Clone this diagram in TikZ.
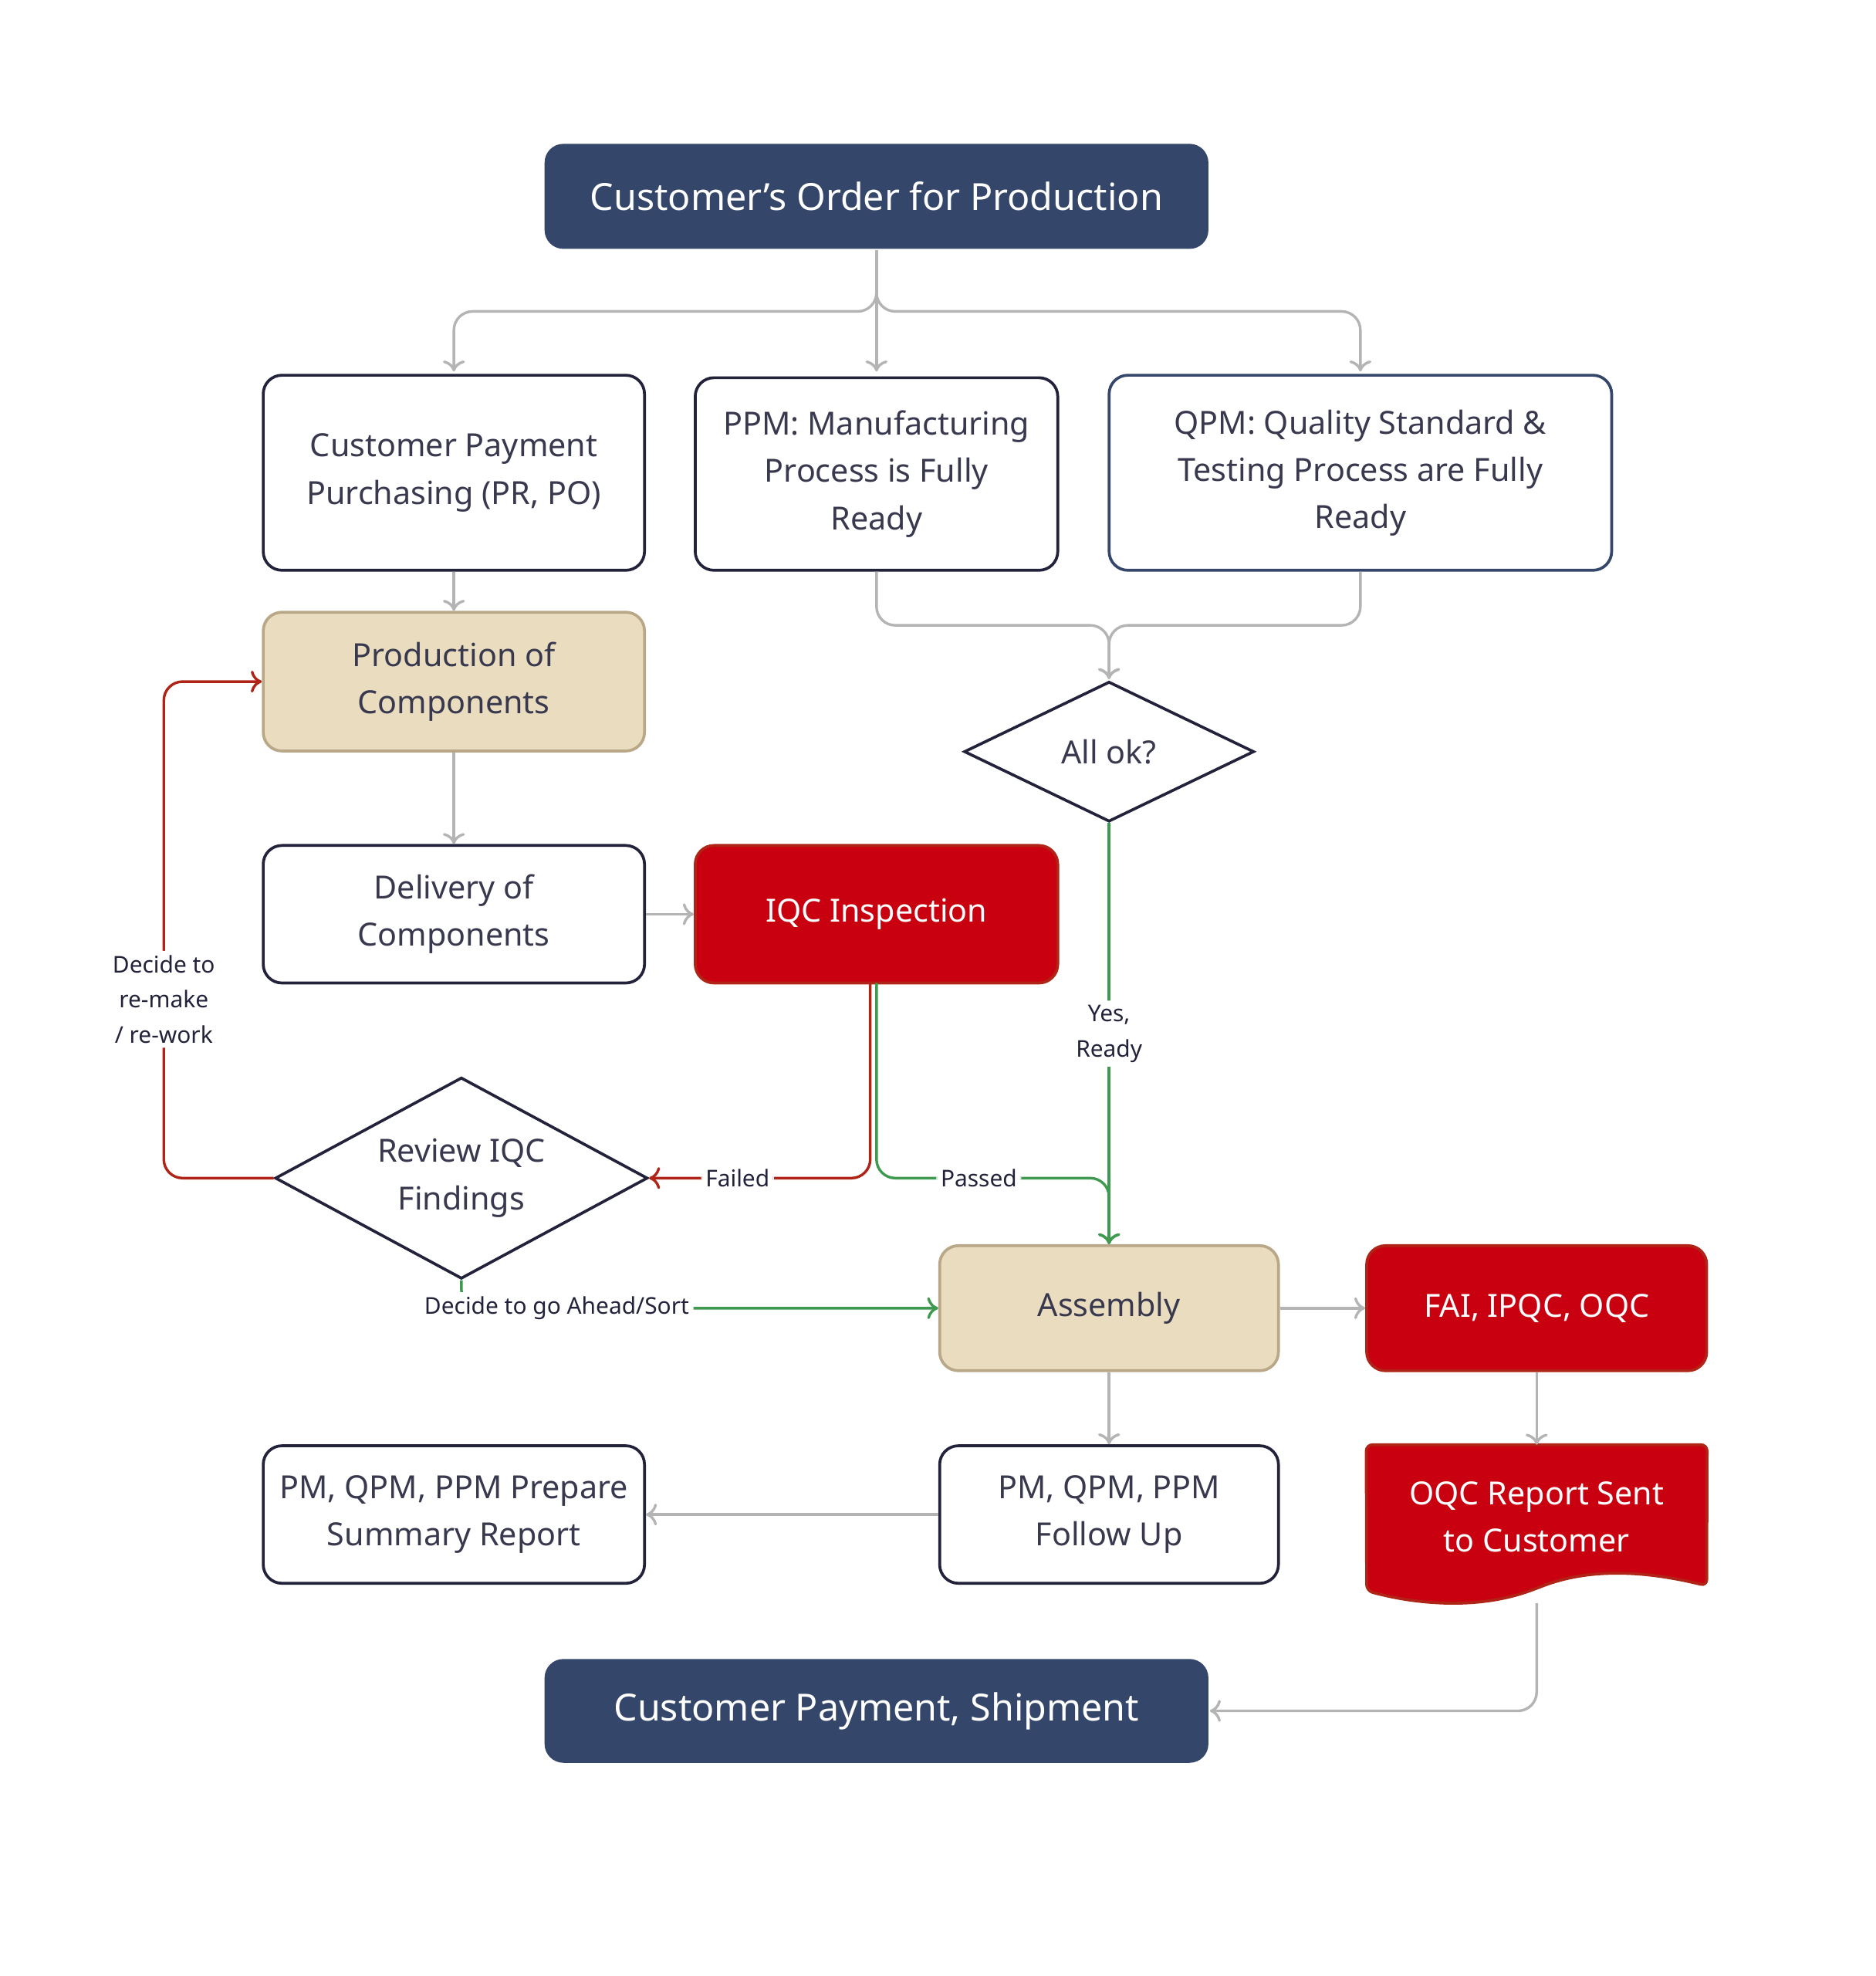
\documentclass[tikz,border=0pt]{standalone}
\usepackage{fontspec}
\setmainfont{Noto Sans}
\usetikzlibrary{shapes.geometric,arrows.meta}
\definecolor{navy}{HTML}{344669}
\definecolor{ink}{HTML}{22223A}
\definecolor{beige}{HTML}{EADCBF}
\definecolor{beigeline}{HTML}{B8A888}
\definecolor{redbox}{HTML}{C8000F}
\definecolor{redline}{HTML}{B02418}
\definecolor{greenline}{HTML}{3E9A4E}
\definecolor{greyline}{HTML}{B4B4B4}
\tikzset{
  box/.style={draw=ink,line width=1.3pt,rounded corners=0.3cm,fill=white,
    align=center,font=\fontsize{14.5}{21.5}\selectfont,text=ink!90},
  head/.style={box,draw=none,fill=navy,text=white,font=\fontsize{17}{20}\selectfont\bfseries},
  warm/.style={box,draw=beigeline,fill=beige},
  alarm/.style={box,draw=redline,fill=redbox,text=white},
  choice/.style={diamond,draw=ink,line width=1.3pt,fill=white,aspect=2,inner sep=0pt,
    align=center,font=\fontsize{14.5}{21.5}\selectfont,text=ink!90},
  flow/.style={draw=greyline,line width=1.2pt,rounded corners=0.3cm,-{To[length=5pt,width=10pt]}},
  ok/.style={flow,draw=greenline},
  bad/.style={flow,draw=redline},
  tag/.style={fill=white,font=\fontsize{10.5}{16}\selectfont\bfseries,text=ink,align=center,inner sep=2pt}
}
\begin{document}
\begin{tikzpicture}[x=0.02cm,y=-0.02cm]
\useasboundingbox (0,0) rectangle (1500,1580);
\node[head,minimum width=10.62cm,minimum height=1.68cm] (order) at (701,157) {Customer’s Order for Production};
\node[box,minimum width=6.1cm,minimum height=3.12cm] (pay) at (363,378) {Customer Payment\\Purchasing (PR, PO)};
\node[box,minimum width=5.8cm,minimum height=3.08cm] (ppm) at (701,379) {\textbf{PPM:} Manufacturing\\Process is Fully\\Ready};
\node[box,draw=navy,minimum width=8.04cm,minimum height=3.12cm] (qpm) at (1088,378) {\textbf{QPM:} Quality Standard \&\\Testing Process are Fully\\Ready};
\node[warm,minimum width=6.1cm,minimum height=2.22cm] (prod) at (363,545) {Production of\\Components};
\node[choice,minimum width=4.64cm,minimum height=2.24cm] (allok) at (887,601) {All ok?};
\node[box,minimum width=6.1cm,minimum height=2.2cm] (deliv) at (363,731) {Delivery of\\Components};
\node[alarm,minimum width=5.8cm,minimum height=2.2cm] (iqc) at (701,731) {IQC Inspection};
\node[choice,minimum width=5.96cm,minimum height=3.22cm] (review) at (369,942) {Review IQC\\Findings};
\node[warm,minimum width=5.42cm,minimum height=2cm,font=\fontsize{14.5}{21.5}\selectfont\bfseries] (asm) at (887,1046) {Assembly};
\node[alarm,minimum width=5.44cm,minimum height=2cm] (fai) at (1229,1046) {FAI, IPQC, OQC};
\node[box,minimum width=5.42cm,minimum height=2.2cm] (follow) at (887,1211) {PM, QPM, PPM\\Follow Up};
\node[box,minimum width=6.1cm,minimum height=2.2cm] (summ) at (363,1211) {PM, QPM, PPM Prepare\\Summary Report};
\node[minimum width=5.44cm,minimum height=2.3cm] (oqc) at (1229,1213) {};
\fill[redbox,draw=redline,line width=1.3pt,rounded corners=0.1cm]
  (oqc.north west) -- (oqc.north east) -- (1365,1268)
  .. controls (1300,1252) and (1260,1258) .. (1229,1270)
  .. controls (1180,1288) and (1130,1282) .. (1093,1272) -- cycle;
\node[align=center,text=white,font=\fontsize{14.5}{21.5}\selectfont] at (1229,1213) {OQC Report Sent\\to Customer};
\node[head,minimum width=10.62cm,minimum height=1.66cm] (ship) at (701,1368) {Customer Payment, Shipment};
\coordinate (split) at (701,249);
\coordinate (join) at (887,500);
\draw[flow] (order.south) -- (701,297);
\draw[flow] (order.south) |- (split) -| (363,297);
\draw[flow] (order.south) |- (split) -| (1088,297);
\draw[flow] (pay) -- (prod);
\draw[flow] (ppm.south) |- (join) -- (887,543);
\draw[flow] (qpm.south) |- (join) -- (887,543);
\draw[flow] (prod) -- (deliv);
\draw[flow] (deliv) -- (iqc);
\draw[ok] (allok.south) -- node[tag,pos=0.5]{Yes,\\Ready} (asm.north);
\draw[bad] (696,786) |- node[tag,pos=0.8]{Failed} (review.east);
\draw[ok] (701,786) |- node[tag,pos=0.72]{Passed} (887,942) -- (asm.north);
\draw[bad] (review.west) -| node[tag,pos=0.68]{Decide to\\re-make\\/ re-work} (131,545) -- (prod.west);
\draw[ok] (review.south) |- node[tag,pos=0.6]{Decide to go Ahead/Sort} (asm.west);
\draw[flow] (asm) -- (fai);
\draw[flow] (asm) -- (follow);
\draw[flow] (fai) -- (oqc.north);
\draw[flow] (follow) -- (summ);
\draw[flow] (1229,1282) |- (ship.east);
\end{tikzpicture}
\end{document}
